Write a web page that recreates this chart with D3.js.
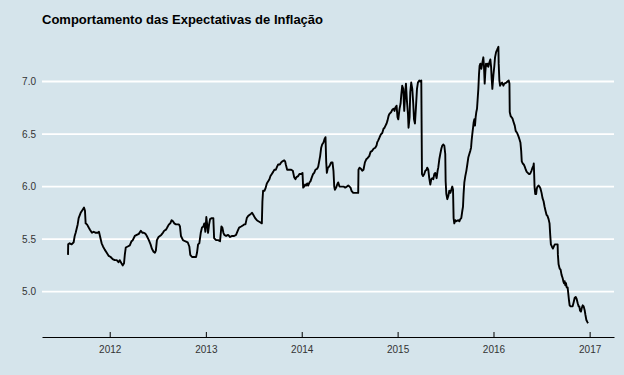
<!doctype html>
<html lang="pt">
    <head>
        <meta charset="UTF-8" />
        <title>Comportamento das Expectativas de Inflação</title>
        <script src="https://d3js.org/d3.v7.min.js"></script>
        <style>
            body {
                margin: 0;
                background: #d5e4eb;
            }
            svg {
                display: block;
                font-family: "Liberation Sans", Arial, sans-serif;
            }
            .axis text {
                font-size: 10px;
                fill: #333;
            }
        </style>
    </head>
    <body>
        <svg id="chart" width="624" height="375"></svg>
        <script>
            // datas em anos decimais
            const anos = [
                2011.565, 2011.567, 2011.582, 2011.603, 2011.624, 2011.635, 2011.645, 2011.666, 2011.676, 2011.697,
                2011.718, 2011.732, 2011.742, 2011.749, 2011.763, 2011.781, 2011.794, 2011.815, 2011.833, 2011.854,
                2011.875, 2011.888, 2011.903, 2011.916, 2011.93, 2011.948, 2011.969, 2011.99, 2012.01, 2012.031,
                2012.052, 2012.073, 2012.091, 2012.104, 2012.122, 2012.136, 2012.149, 2012.157, 2012.167, 2012.188,
                2012.209, 2012.227, 2012.24, 2012.261, 2012.282, 2012.303, 2012.324, 2012.341, 2012.355, 2012.373,
                2012.386, 2012.407, 2012.425, 2012.438, 2012.456, 2012.47, 2012.48, 2012.491, 2012.508, 2012.522,
                2012.536, 2012.553, 2012.567, 2012.585, 2012.598, 2012.616, 2012.63, 2012.644, 2012.658, 2012.671,
                2012.689, 2012.707, 2012.72, 2012.731, 2012.741, 2012.762, 2012.783, 2012.811, 2012.828, 2012.838,
                2012.856, 2012.877, 2012.898, 2012.908, 2012.919, 2012.932, 2012.947, 2012.96, 2012.974, 2012.984,
                2012.995, 2013.005, 2013.016, 2013.023, 2013.034, 2013.044, 2013.062, 2013.078, 2013.086, 2013.107,
                2013.128, 2013.148, 2013.162, 2013.172, 2013.183, 2013.193, 2013.211, 2013.232, 2013.253, 2013.274,
                2013.295, 2013.315, 2013.333, 2013.347, 2013.368, 2013.385, 2013.399, 2013.413, 2013.427, 2013.441,
                2013.454, 2013.469, 2013.482, 2013.496, 2013.514, 2013.532, 2013.548, 2013.566, 2013.584, 2013.59,
                2013.597, 2013.611, 2013.621, 2013.636, 2013.65, 2013.663, 2013.674, 2013.688, 2013.702, 2013.715,
                2013.73, 2013.743, 2013.754, 2013.772, 2013.785, 2013.799, 2013.817, 2013.827, 2013.834, 2013.848,
                2013.869, 2013.89, 2013.907, 2013.921, 2013.935, 2013.945, 2013.963, 2013.976, 2013.994, 2014.008,
                2014.015, 2014.025, 2014.036, 2014.046, 2014.057, 2014.067, 2014.081, 2014.091, 2014.106, 2014.119,
                2014.13, 2014.143, 2014.161, 2014.172, 2014.182, 2014.192, 2014.203, 2014.213, 2014.227, 2014.237,
                2014.248, 2014.255, 2014.262, 2014.273, 2014.286, 2014.297, 2014.307, 2014.321, 2014.331, 2014.339,
                2014.346, 2014.359, 2014.37, 2014.38, 2014.394, 2014.412, 2014.436, 2014.453, 2014.471, 2014.485,
                2014.498, 2014.509, 2014.519, 2014.537, 2014.558, 2014.589, 2014.592, 2014.603, 2014.617, 2014.631,
                2014.644, 2014.659, 2014.673, 2014.686, 2014.704, 2014.718, 2014.735, 2014.749, 2014.767, 2014.78,
                2014.787, 2014.798, 2014.808, 2014.822, 2014.829, 2014.84, 2014.853, 2014.864, 2014.874, 2014.885,
                2014.895, 2014.905, 2014.913, 2014.923, 2014.934, 2014.944, 2014.958, 2014.968, 2014.975, 2014.989,
                2014.999, 2015.007, 2015.02, 2015.031, 2015.038, 2015.048, 2015.059, 2015.069, 2015.08, 2015.087,
                2015.097, 2015.108, 2015.114, 2015.125, 2015.132, 2015.142, 2015.153, 2015.163, 2015.171, 2015.181,
                2015.191, 2015.202, 2015.212, 2015.226, 2015.236, 2015.247, 2015.254, 2015.265, 2015.278, 2015.289,
                2015.302, 2015.309, 2015.32, 2015.33, 2015.341, 2015.351, 2015.362, 2015.372, 2015.383, 2015.393,
                2015.407, 2015.417, 2015.424, 2015.435, 2015.445, 2015.456, 2015.466, 2015.477, 2015.487, 2015.497,
                2015.501, 2015.508, 2015.518, 2015.529, 2015.539, 2015.55, 2015.56, 2015.57, 2015.578, 2015.584,
                2015.591, 2015.602, 2015.612, 2015.633, 2015.644, 2015.654, 2015.664, 2015.675, 2015.682, 2015.688,
                2015.696, 2015.706, 2015.717, 2015.727, 2015.738, 2015.748, 2015.758, 2015.766, 2015.772, 2015.779,
                2015.787, 2015.793, 2015.8, 2015.807, 2015.814, 2015.821, 2015.828, 2015.834, 2015.842, 2015.849,
                2015.855, 2015.863, 2015.873, 2015.884, 2015.894, 2015.901, 2015.908, 2015.915, 2015.922, 2015.933,
                2015.939, 2015.946, 2015.957, 2015.967, 2015.975, 2015.981, 2015.988, 2015.999, 2016.009, 2016.016,
                2016.027, 2016.037, 2016.051, 2016.054, 2016.061, 2016.068, 2016.079, 2016.089, 2016.103, 2016.113,
                2016.134, 2016.158, 2016.166, 2016.169, 2016.179, 2016.197, 2016.207, 2016.221, 2016.231, 2016.246,
                2016.259, 2016.27, 2016.28, 2016.288, 2016.294, 2016.304, 2016.315, 2016.325, 2016.336, 2016.346,
                2016.357, 2016.367, 2016.378, 2016.385, 2016.395, 2016.406, 2016.416, 2016.419, 2016.423, 2016.427,
                2016.434, 2016.444, 2016.45, 2016.458, 2016.468, 2016.479, 2016.489, 2016.5, 2016.51, 2016.521,
                2016.531, 2016.541, 2016.552, 2016.562, 2016.573, 2016.583, 2016.59, 2016.597, 2016.607, 2016.618,
                2016.628, 2016.638, 2016.656, 2016.667, 2016.67, 2016.677, 2016.688, 2016.698, 2016.708, 2016.719,
                2016.726, 2016.733, 2016.74, 2016.747, 2016.754, 2016.761, 2016.771, 2016.778, 2016.785, 2016.792,
                2016.802, 2016.823, 2016.834, 2016.844, 2016.855, 2016.865, 2016.876, 2016.886, 2016.893, 2016.9,
                2016.91, 2016.917, 2016.928, 2016.938, 2016.949, 2016.956, 2016.966, 2016.977, 2016.983,
            ];

            // expectativa de inflação (%)
            const expectativa = [
                5.35, 5.45, 5.46, 5.45, 5.47, 5.53, 5.56, 5.64, 5.7, 5.75,
                5.78, 5.8, 5.77, 5.65, 5.64, 5.61, 5.59, 5.56, 5.57, 5.56,
                5.56, 5.57, 5.51, 5.46, 5.43, 5.4, 5.37, 5.34, 5.33, 5.31,
                5.3, 5.3, 5.28, 5.3, 5.27, 5.25, 5.27, 5.35, 5.42, 5.43,
                5.44, 5.48, 5.49, 5.53, 5.54, 5.55, 5.58, 5.56, 5.56, 5.55,
                5.53, 5.49, 5.45, 5.41, 5.38, 5.37, 5.39, 5.49, 5.52, 5.53,
                5.54, 5.56, 5.58, 5.59, 5.61, 5.64, 5.65, 5.68, 5.67, 5.65,
                5.64, 5.64, 5.64, 5.62, 5.53, 5.49, 5.48, 5.47, 5.43, 5.35,
                5.33, 5.33, 5.33, 5.37, 5.45, 5.46, 5.56, 5.61, 5.62, 5.65,
                5.57, 5.71, 5.62, 5.56, 5.64, 5.69, 5.7, 5.7, 5.51, 5.49,
                5.49, 5.48, 5.62, 5.61, 5.56, 5.54, 5.53, 5.54, 5.52, 5.53,
                5.53, 5.54, 5.58, 5.61, 5.62, 5.63, 5.64, 5.64, 5.7, 5.72,
                5.73, 5.74, 5.75, 5.73, 5.7, 5.68, 5.67, 5.66, 5.65, 5.86,
                5.96, 5.96, 5.98, 6.03, 6.05, 6.07, 6.1, 6.12, 6.14, 6.16,
                6.16, 6.19, 6.21, 6.21, 6.23, 6.24, 6.25, 6.24, 6.21, 6.16,
                6.16, 6.16, 6.15, 6.09, 6.07, 6.09, 6.1, 6.12, 6.12, 6.13,
                5.99, 6.0, 6.02, 6.01, 6.03, 6.01, 6.04, 6.05, 6.09, 6.12,
                6.13, 6.16, 6.17, 6.19, 6.24, 6.29, 6.37, 6.4, 6.42, 6.45,
                6.47, 6.24, 6.13, 6.18, 6.19, 6.21, 6.23, 6.23, 6.15, 6.0,
                5.97, 5.99, 6.02, 6.04, 6.0, 6.0, 6.0, 5.99, 6.0, 6.01,
                6.0, 5.99, 5.96, 5.94, 5.94, 5.94, 6.16, 6.18, 6.17, 6.15,
                6.16, 6.23, 6.26, 6.27, 6.29, 6.33, 6.34, 6.36, 6.37, 6.39,
                6.42, 6.44, 6.46, 6.49, 6.5, 6.51, 6.55, 6.56, 6.58, 6.6,
                6.63, 6.67, 6.69, 6.7, 6.71, 6.73, 6.74, 6.72, 6.75, 6.77,
                6.66, 6.64, 6.74, 6.79, 6.87, 6.96, 6.93, 6.72, 6.9, 6.98,
                6.82, 6.69, 6.56, 6.66, 6.9, 6.99, 6.93, 6.79, 6.64, 6.6,
                6.75, 6.93, 6.99, 7.01, 7.0, 7.01, 6.12, 6.1, 6.12, 6.15,
                6.16, 6.18, 6.16, 6.08, 6.02, 6.07, 6.08, 6.07, 6.12, 6.13,
                6.08, 6.15, 6.18, 6.26, 6.31, 6.36, 6.39, 6.4, 6.39, 6.31,
                6.05, 5.93, 5.88, 5.91, 5.96, 5.94, 5.97, 6.0, 5.97, 5.7,
                5.65, 5.68, 5.67, 5.68, 5.67, 5.69, 5.7, 5.77, 5.81, 5.93,
                6.04, 6.1, 6.15, 6.21, 6.28, 6.31, 6.34, 6.37, 6.44, 6.5,
                6.56, 6.61, 6.64, 6.58, 6.66, 6.71, 6.74, 6.82, 6.93, 7.07,
                7.15, 7.17, 7.12, 7.18, 7.23, 7.14, 6.98, 7.09, 7.17, 7.15,
                7.17, 7.14, 7.18, 7.21, 7.14, 7.03, 6.93, 7.06, 7.15, 7.23,
                7.28, 7.3, 7.33, 7.17, 7.01, 6.96, 6.98, 6.99, 6.96, 6.98,
                6.99, 7.01, 6.98, 6.71, 6.67, 6.65, 6.62, 6.58, 6.53, 6.51,
                6.48, 6.45, 6.42, 6.34, 6.24, 6.22, 6.21, 6.19, 6.16, 6.14,
                6.13, 6.12, 6.12, 6.13, 6.15, 6.18, 6.2, 6.22, 6.12, 6.0,
                5.93, 5.93, 5.98, 6.0, 6.01, 6.0, 5.98, 5.94, 5.89, 5.86,
                5.81, 5.77, 5.73, 5.72, 5.69, 5.65, 5.54, 5.45, 5.43, 5.41,
                5.43, 5.45, 5.45, 5.45, 5.35, 5.26, 5.22, 5.21, 5.16, 5.13,
                5.1, 5.08, 5.1, 5.06, 5.08, 5.04, 5.04, 4.98, 4.92, 4.87,
                4.86, 4.86, 4.9, 4.94, 4.95, 4.93, 4.89, 4.86, 4.86, 4.82,
                4.81, 4.84, 4.87, 4.86, 4.82, 4.78, 4.73, 4.71, 4.7,
            ];

            const anosEixo = [2012, 2013, 2014, 2015, 2016, 2017];
            const valoresEixo = [5.0, 5.5, 6.0, 6.5, 7.0];
            const titulo = "Comportamento das Expectativas de Inflação";

            // ano decimal -> Date
            function paraData(a) {
                const ano = Math.floor(a);
                const ini = new Date(ano, 0, 1);
                const fim = new Date(ano + 1, 0, 1);
                return new Date(+ini + (a - ano) * (fim - ini));
            }

            const dados = anos.map((a, i) => ({
                data: paraData(a),
                valor: expectativa[i],
            }));

            const svg = d3.select("#chart");
            const margin = { top: 33, right: 10, bottom: 38, left: 42 };
            const width = +svg.attr("width");
            const height = +svg.attr("height");

            svg.append("rect")
                .attr("width", width)
                .attr("height", height)
                .attr("fill", "#d5e4eb");

            // expansão de 5% como no ggplot
            const xExt = d3.extent(dados, (d) => d.data);
            const xPad = (xExt[1] - xExt[0]) * 0.05;
            const x = d3
                .scaleTime()
                .domain([new Date(+xExt[0] - xPad), new Date(+xExt[1] + xPad)])
                .range([margin.left, width - margin.right]);

            const yExt = d3.extent(dados, (d) => d.valor);
            const yPad = (yExt[1] - yExt[0]) * 0.05;
            const y = d3
                .scaleLinear()
                .domain([yExt[0] - yPad, yExt[1] + yPad])
                .range([height - margin.bottom, margin.top]);

            // grade horizontal
            svg.append("g")
                .selectAll("line")
                .data(valoresEixo)
                .join("line")
                .attr("x1", margin.left)
                .attr("x2", width - margin.right)
                .attr("y1", (d) => y(d))
                .attr("y2", (d) => y(d))
                .attr("stroke", "#ffffff")
                .attr("stroke-width", 1.8);

            // eixo y (só rótulos)
            const yAxis = svg
                .append("g")
                .attr("class", "axis")
                .attr("transform", `translate(${margin.left},0)`)
                .call(
                    d3
                        .axisLeft(y)
                        .tickValues(valoresEixo)
                        .tickSize(0)
                        .tickPadding(6)
                        .tickFormat(d3.format(".1f")),
                );
            yAxis.select(".domain").remove();

            // eixo x
            const xAxis = svg
                .append("g")
                .attr("class", "axis")
                .attr("transform", `translate(0,${height - margin.bottom})`)
                .call(
                    d3
                        .axisBottom(x)
                        .tickValues(anosEixo.map((a) => new Date(a, 0, 1)))
                        .tickSize(0)
                        .tickPadding(9)
                        .tickFormat(d3.timeFormat("%Y")),
                );
            xAxis.select(".domain")
                .attr("stroke", "#000")
                .attr("stroke-width", 1.2);
            xAxis.selectAll(".tick line")
                .attr("y2", -5)
                .attr("stroke", "#000");

            // linha
            const linha = d3
                .line()
                .x((d) => x(d.data))
                .y((d) => y(d.valor));

            svg.append("path")
                .datum(dados)
                .attr("fill", "none")
                .attr("stroke", "#000")
                .attr("stroke-width", 1.9)
                .attr("stroke-linejoin", "round")
                .attr("d", linha);

            svg.append("text")
                .attr("x", 42)
                .attr("y", 24)
                .attr("font-size", 13)
                .attr("font-weight", "bold")
                .attr("fill", "#000")
                .text(titulo);
        </script>
    </body>
</html>
